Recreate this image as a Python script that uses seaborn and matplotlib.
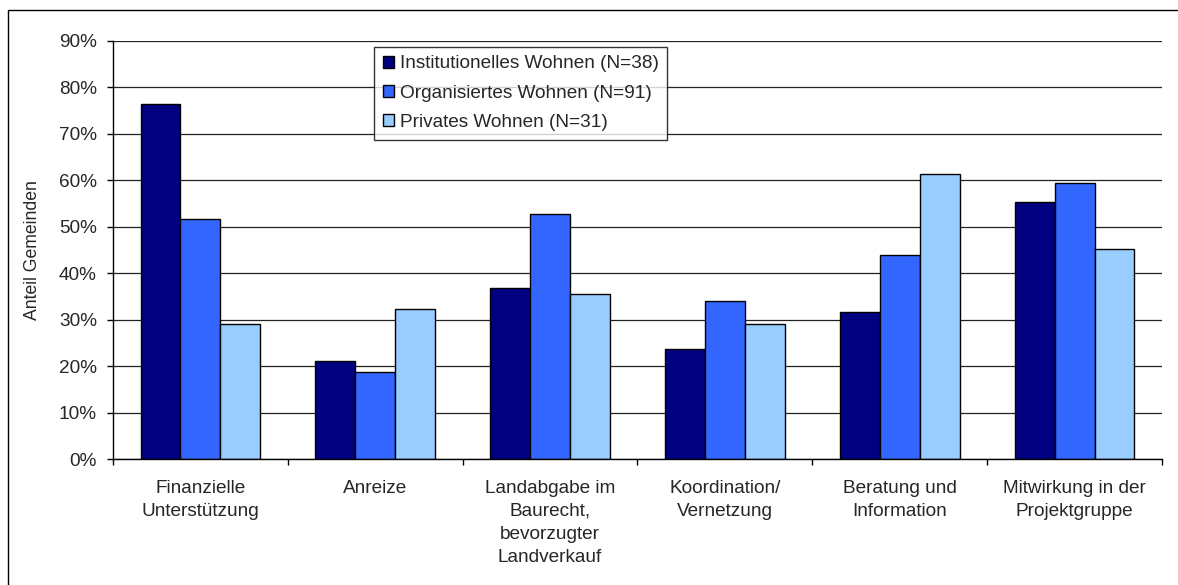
import matplotlib
matplotlib.use("Agg")
import matplotlib.pyplot as plt
import matplotlib.patches as mpatches
from matplotlib.ticker import FuncFormatter, FixedLocator
import seaborn as sns
import pandas as pd

# data (Anteil in %)
kategorien = ["Finanzielle\nUnterstützung", "Anreize",
              "Landabgabe im\nBaurecht,\nbevorzugter\nLandverkauf",
              "Koordination/\nVernetzung", "Beratung und\nInformation",
              "Mitwirkung in der\nProjektgruppe"]
gruppen = ["Institutionelles Wohnen (N=38)", "Organisiertes Wohnen (N=91)",
           "Privates Wohnen (N=31)"]
institutionell = [76.3, 21.1, 36.8, 23.7, 31.6, 55.3]
organisiert = [51.6, 18.7, 52.7, 34.1, 44.0, 59.3]
privat = [29.0, 32.3, 35.5, 29.0, 61.3, 45.2]
farben = ["#000080", "#3366FF", "#99CCFF"]

rows = []
for g, werte in zip(gruppen, [institutionell, organisiert, privat]):
    for k, v in zip(kategorien, werte):
        rows.append({"Kategorie": k, "Anteil": v, "Gruppe": g})
df = pd.DataFrame(rows)

sns.set_theme(style="white")
plt.rcParams['font.family'] = ['Liberation Sans', 'DejaVu Sans']

fig = plt.figure(figsize=(11.78, 5.85), dpi=100)
ax = fig.add_axes([0.0959, 0.2149, 0.8905, 0.7155])

sns.barplot(data=df, x="Kategorie", y="Anteil", hue="Gruppe",
            hue_order=gruppen, order=kategorien, palette=farben,
            width=0.685, edgecolor="black", linewidth=1, saturation=1,
            ax=ax, legend=False)

ax.set_ylim(0, 90)
ax.set_xlim(-0.5, 5.5)
ax.set_yticks(range(0, 91, 10))
ax.yaxis.set_major_formatter(FuncFormatter(lambda v, p: f"{int(v)}%"))
ax.grid(axis="y", color="#222222", linewidth=0.9)
ax.set_axisbelow(True)

for s in ["top", "right"]:
    ax.spines[s].set_visible(False)
for s in ["left", "bottom"]:
    ax.spines[s].set_color("black")
    ax.spines[s].set_linewidth(1)

ax.tick_params(axis="y", direction="out", length=4.5, width=1, color="black",
               pad=7, labelsize=13.7, left=True)
ax.tick_params(axis="x", which="major", length=0, pad=15, labelsize=13.7)
ax.xaxis.set_minor_locator(FixedLocator([i - 0.5 for i in range(7)]))
ax.tick_params(axis="x", which="minor", direction="out", length=4.5,
               width=1, color="black", bottom=True)
for t in ax.get_xticklabels():
    t.set_linespacing(1.45)
    t.set_verticalalignment("top")

ax.set_xlabel("")
ax.set_ylabel("Anteil Gemeinden", fontsize=12.7, labelpad=13)

handles = [mpatches.Patch(facecolor=c, edgecolor="black", linewidth=1)
           for c in farben]
leg = fig.legend(handles, gruppen, loc="upper left",
                 bbox_to_anchor=(374 / 1178, 1 - 46.7 / 585),
                 fontsize=13.7, frameon=True, fancybox=False, borderpad=0.45,
                 handlelength=0.6, handleheight=0.6, handletextpad=0.3,
                 labelspacing=0.65, borderaxespad=0)
leg.get_frame().set_edgecolor("black")
leg.get_frame().set_linewidth(1)

# outer chart border
fig.patches.append(mpatches.Rectangle((8 / 1178, -0.1), 1.2, 1.1 - 10 / 585,
                                      transform=fig.transFigure,
                                      fill=False, edgecolor="black",
                                      linewidth=1))

fig.savefig("out.png", dpi=100)
